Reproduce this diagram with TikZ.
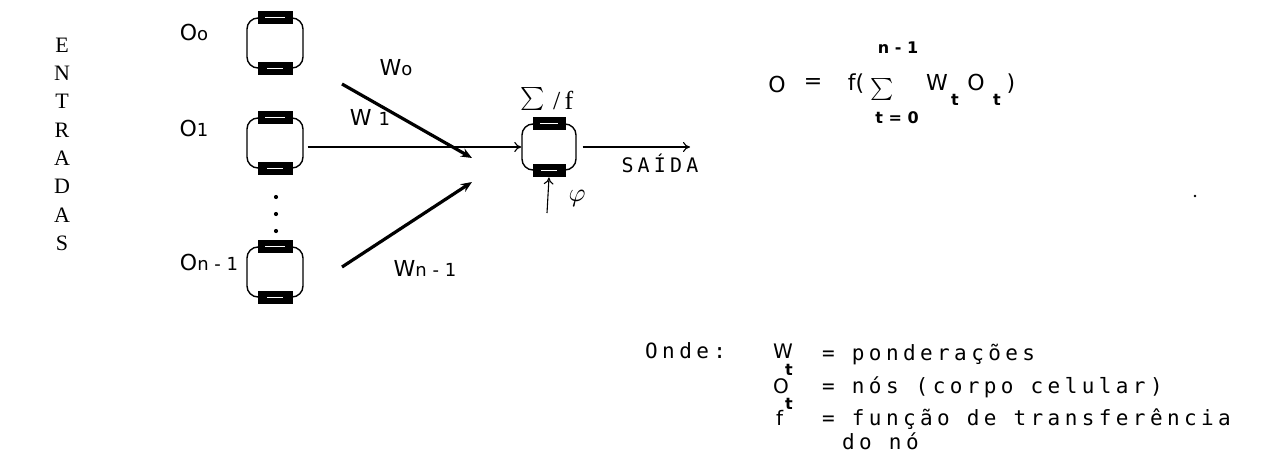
\documentclass[tikz,border=0pt]{standalone}
\usepackage{fontspec}
\usepackage{graphicx}
\usetikzlibrary{arrows.meta}
\newfontfamily\tw[LetterSpace=21]{DejaVu Sans Mono}
\newfontfamily\tl{DejaVu Sans}
\newfontfamily\sr{Liberation Serif}
\begin{document}
\begin{tikzpicture}[x=1pt,y=-1pt,
  cell/.style={draw, line width=1.4pt, rounded corners=11pt, minimum width=56pt, minimum height=50pt, inner sep=0pt},
  bar/.style={fill=black, minimum width=35pt, minimum height=13pt, inner sep=0pt},
  serifl/.style={font=\fontsize{22}{22}\selectfont\sr, inner sep=0pt},
  lab/.style={font=\fontsize{22}{22}\selectfont\tl, inner sep=0pt},
  leg/.style={font=\fontsize{20}{20}\selectfont\tl, inner sep=0pt, anchor=base west},
  txt/.style={font=\fontsize{21}{21}\selectfont\tw, inner sep=0pt, anchor=base west},
  subb/.style={font=\fontsize{16}{16}\selectfont\tl\bfseries, inner sep=0pt},
  thin/.style={line width=1.1pt, -{To[length=7pt,width=10pt]}},
  thick/.style={line width=3.2pt, -{Stealth[length=11pt,width=9pt]}}]
\useasboundingbox (0,0) rectangle (1264,474);
\fill[white] (0,0) rectangle (1264,474);

% ENTRADAS
\foreach \l [count=\i from 0] in {E,N,T,R,A,D,A,S}
  \node[serifl] (e\i) at (62,{45+28.3*\i}) {\l};

% input cells
\foreach \n/\y in {0/43,1/143,n/272}{
  \node[cell] (c\n) at (275,\y) {};
  \node[bar] (c\n t) at (c\n.north) {};
  \node[bar] (c\n b) at (c\n.south) {};
  \draw[white, line width=1pt] ([xshift=-10pt]c\n t.center) -- ([xshift=10pt]c\n t.center);
  \draw[white, line width=1pt] ([xshift=-8pt]c\n b.center) -- ([xshift=8pt]c\n b.center);
}
% sum cell
\node[cell, minimum width=54pt, minimum height=46pt] (s) at (549,147) {};
\node[bar, minimum width=33pt] (st) at (s.north) {};
\node[bar, minimum width=33pt] (sb) at (s.south) {};
\draw[white, line width=1pt] ([xshift=-9pt]st.center) -- ([xshift=9pt]st.center);
\draw[white, line width=1pt] ([xshift=-8pt]sb.center) -- ([xshift=8pt]sb.center);

% dots
\foreach \y [count=\i] in {197,214,231}
  \fill (276,\y) circle (2.1pt) coordinate (d\i);

% labels of inputs
\node[lab] (l0) at (194,32) {O{\fontsize{18}{18}\selectfont o}};
\node[lab] (l1) at (194,128) {O{\fontsize{18}{18}\selectfont 1}};
\node[lab] (ln) at (209,262) {O{\fontsize{18}{18}\selectfont n - 1}};

% connectors
\coordinate (a0s) at (342,84);
\coordinate (a0e) at (472,158);
\coordinate (ans) at (342,267);
\coordinate (ane) at (472,182);
\draw[thick] (a0s) -- (a0e);
\draw[thick] (ans) -- (ane);
\draw[thin] (c1.east |- s.west) ++(4,0) -- (s.west);
\coordinate (out) at (690,147);
\draw[thin] ([xshift=6pt]s.east) -- (out);
\coordinate (phi) at (547,213);
\draw[thin] (phi) -- (sb.south);

% weight labels
\node[lab] (w0) at (396,68) {W{\fontsize{18}{18}\selectfont o}};
\node[lab] (w1) at (370,117) {W {\fontsize{18}{18}\selectfont 1}};
\node[lab] (wn) at (425,268) {W{\fontsize{18}{18}\selectfont n - 1}};
\node[inner sep=0pt] (sls) at (533,99) {\scalebox{2.3}{$\sum$}};
\node[font=\fontsize{26}{26}\selectfont\sr, inner sep=0pt, anchor=west] (slf) at (553,100) {/\,f};
\node[font=\fontsize{20}{20}\selectfont\tw, inner sep=0pt] (sa) at (660,163) {SAÍDA};
\node[inner sep=0pt] (ph) at (577,198) {\scalebox{2.6}{$\varphi$}};

% formula
\node[lab] (fo) at (777,84) {O};
\node[lab] (feq) at (813,84) {=};
\node[lab] (ff) at (856,84) {f(};
\node[inner sep=0pt] (fs) at (882,89) {\scalebox{2.2}{$\sum$}};
\node[subb] (fn) at (898,48) {n - 1};
\node[subb] (ft) at (897,118) {t = 0};
\node[lab] (fw) at (937,82) {W};
\node[subb] (fwt) at (955,100) {t};
\node[lab] (fo2) at (976,82) {O};
\node[subb] (fot) at (997,100) {t};
\node[lab] (fcl) at (1011,84) {)};

% speck
\fill (1195,196) circle (1.3pt);

% legend
\node[txt] (onde) at (645,358) {Onde:};
\node[leg] (lw) at (773,358) {W};
\node[subb] (lwt) at (789,370) {t};
\node[txt] (lw2) at (822,360) {= ponderações};
\node[leg] (lo) at (773,393) {O};
\node[subb] (lot) at (789,404) {t};
\node[txt] (lo2) at (822,393) {= nós (corpo celular)};
\node[leg] (lf) at (776,425) {f};
\node[txt] (lf2) at (822,425) {= função de transferência};
\node[txt] (lf3) at (842,449) {do nó};
\end{tikzpicture}
\end{document}
